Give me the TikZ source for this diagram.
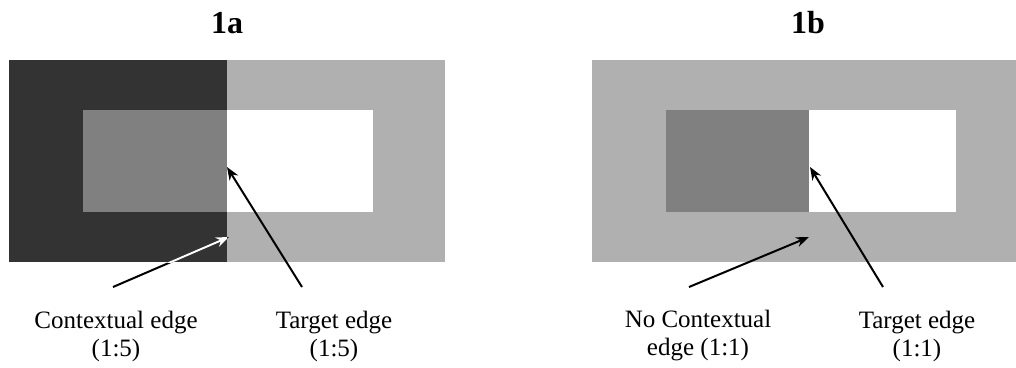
\documentclass[tikz,border=0pt]{standalone}
\usepackage{fontspec}
\setmainfont{Liberation Serif}
\usepackage{tikz}
\usetikzlibrary{arrows.meta,positioning}
\definecolor{cDark}{HTML}{333333}
\definecolor{cSurr}{HTML}{B0B0B0}
\definecolor{cMid}{HTML}{808080}
\tikzset{
  ttl/.style ={font=\fontsize{32}{34}\selectfont\bfseries, inner sep=0pt},
  lbl/.style ={font=\fontsize{25}{28}\selectfont, align=center, inner sep=0pt},
  ar/.style  ={-{Stealth[length=13pt,width=10pt]}, line width=2pt, draw=black},
  arw/.style ={-{Stealth[length=13pt,width=10pt]}, line width=2pt, draw=white},
}
\begin{document}
\begin{tikzpicture}[x=1pt,y=-1pt]
  \useasboundingbox (0,0) rectangle (1016,367);
  % panel 1a
  \fill[cDark] (9,60) rectangle (227,262);
  \fill[cSurr] (227,60) rectangle (445,262);
  \fill[cMid] (83,110) rectangle (227,212);
  \fill[white] (227,110) rectangle (373,212);
  \node[ttl] (ta) at (227,23) {1a};
  \node[lbl] (ca) at (116,336) {Contextual edge\\(1:5)};
  \node[lbl] (ga) at (334,336) {Target edge\\(1:5)};
  \coordinate (cat) at (113,287); \coordinate (cah) at (229,237);
  \coordinate (gat) at (302,287); \coordinate (gah) at (227,167);
  \draw[ar] (cat)--(cah);
  \begin{scope}
    \clip (9,60) rectangle (227,262);
    \draw[arw] (cat)--(cah);
  \end{scope}
  \draw[ar] (gat)--(gah);
  % panel 1b
  \fill[cSurr] (592,60) rectangle (1030,262);
  \fill[cMid] (666,110) rectangle (809,212);
  \fill[white] (809,110) rectangle (956,212);
  \node[ttl] (tb) at (808,23) {1b};
  \node[lbl] (cb) at (698,336) {No Contextual\\edge (1:1)};
  \node[lbl] (gb) at (917,336) {Target edge\\(1:1)};
  \coordinate (cbt) at (689,287); \coordinate (cbh) at (809,237);
  \coordinate (gbt) at (883,287); \coordinate (gbh) at (810,167);
  \draw[ar] (cbt)--(cbh);
  \draw[ar] (gbt)--(gbh);
\end{tikzpicture}
\end{document}
